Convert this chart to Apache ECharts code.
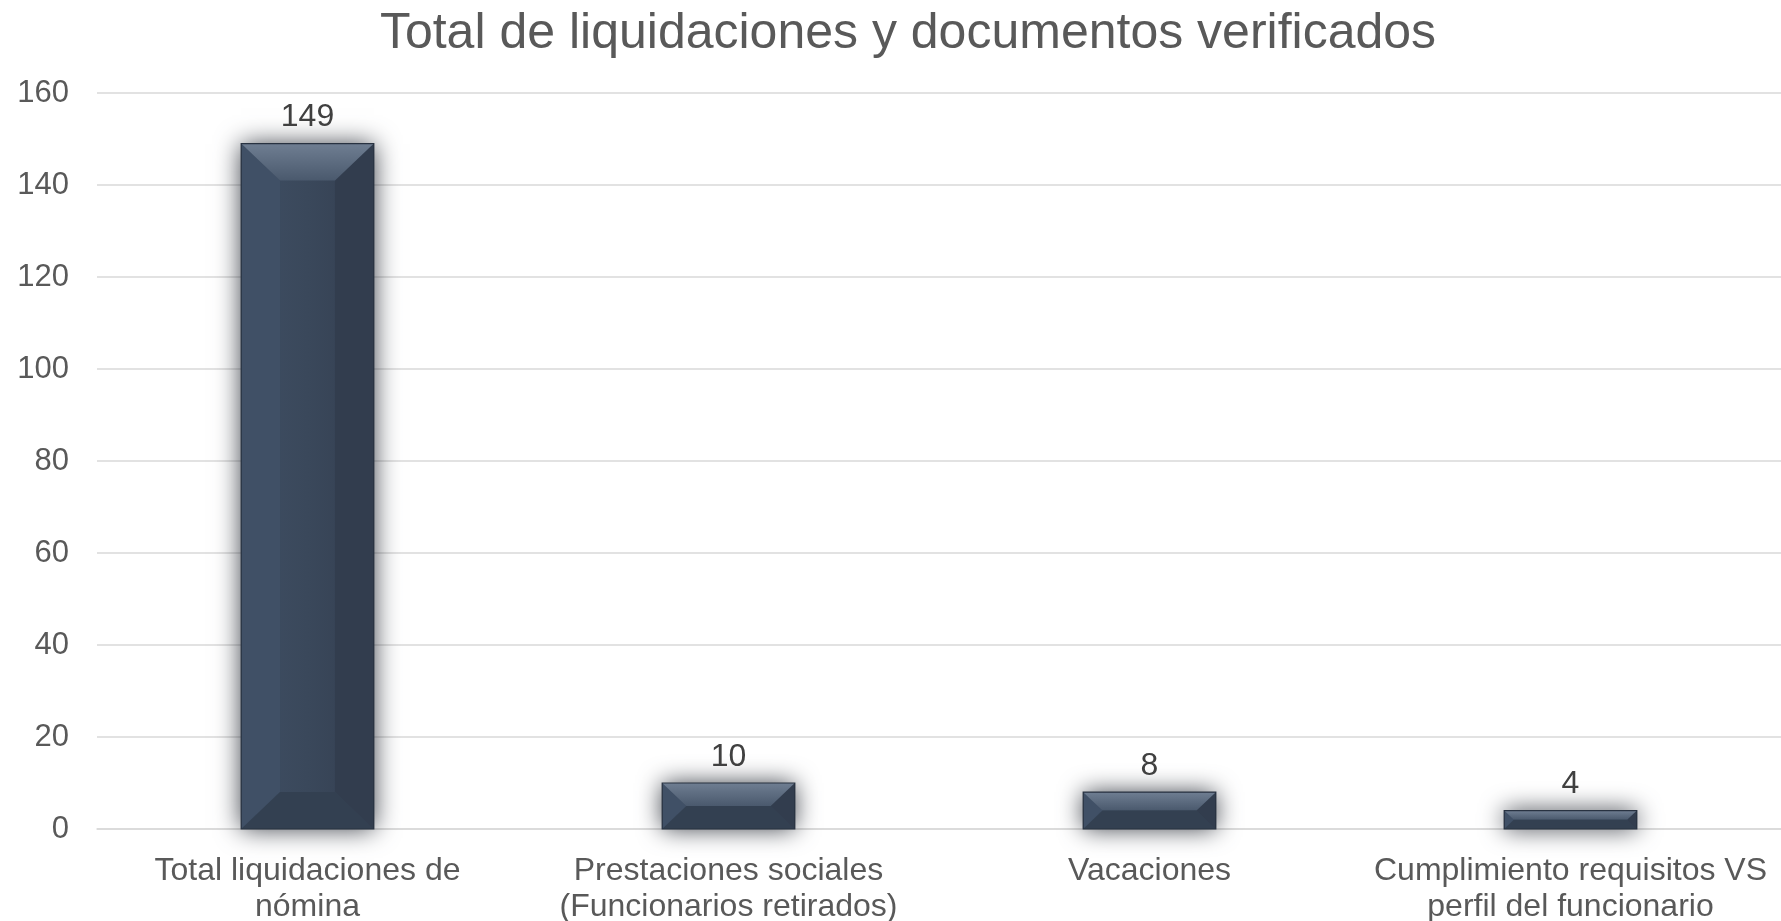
<!DOCTYPE html>
<html>
<head>
<meta charset="utf-8">
<script src="https://cdn.jsdelivr.net/npm/echarts@6/dist/echarts.min.js"></script>
<style>
  html, body { margin: 0; padding: 0; background: #fff; }
  #main { width: 1781px; height: 921px; }
</style>
</head>
<body>
<div id="main"></div>
<script>
// datos del gráfico
var categorias = [
  'Total liquidaciones de\nnómina',
  'Prestaciones sociales\n(Funcionarios retirados)',
  'Vacaciones',
  'Cumplimiento requisitos VS\nperfil del funcionario'
]
var valores = [149, 10, 8, 4]
var ticksY = [0, 20, 40, 60, 80, 100, 120, 140, 160]

var myChart = echarts.init(document.getElementById('main'))

// bisel de la barra (caras superior, izquierda, derecha, inferior)
function biselItem (params, api) {
  var base = api.coord([api.value(0), 0])
  var tope = api.coord([api.value(0), api.value(1)])
  var ancho = api.size([1, 0])[0] * 0.315
  var x0 = base[0] - ancho / 2
  var x1 = base[0] + ancho / 2
  var y0 = tope[1]
  var y1 = base[1]
  var h = y1 - y0
  var b = Math.min(37, h / 2)
  var bx = Math.min(b * 1.05, ancho / 2)
  return {
    type: 'group',
    children: [
      {
        type: 'polygon',
        shape: { points: [[x0, y0], [x0 + bx, y0 + b], [x0 + bx, y1 - b], [x0, y1]] },
        style: { fill: '#405066' }
      },
      {
        type: 'polygon',
        shape: { points: [[x1, y0], [x1, y1], [x1 - bx, y1 - b], [x1 - bx, y0 + b]] },
        style: { fill: '#323d4e' }
      },
      {
        type: 'polygon',
        shape: { points: [[x0, y0], [x1, y0], [x1 - bx, y0 + b], [x0 + bx, y0 + b]] },
        style: {
          fill: new echarts.graphic.LinearGradient(0, 0, 0, 1, [
            { offset: 0, color: '#6f7e92' },
            { offset: 1, color: '#4a596d' }
          ])
        }
      },
      {
        type: 'polygon',
        shape: { points: [[x0, y1], [x0 + bx, y1 - b], [x1 - bx, y1 - b], [x1, y1]] },
        style: { fill: '#334051' }
      },
      {
        type: 'rect',
        shape: { x: x0, y: y0, width: ancho, height: h },
        style: { fill: 'none', stroke: '#283241', lineWidth: 1.2 }
      }
    ]
  }
}

var option = {
  backgroundColor: '#ffffff',
  title: {
    text: 'Total de liquidaciones y documentos verificados',
    left: 903,
    top: 4,
    textAlign: 'center',
    textStyle: {
      fontFamily: 'Liberation Sans, Arial, sans-serif',
      fontSize: 50,
      fontWeight: 'normal',
      color: '#595959'
    }
  },
  grid: {
    left: 97,
    right: 0,
    top: 93,
    bottom: 92,
    containLabel: false,
    outerBoundsMode: 'none'
  },
  xAxis: {
    type: 'category',
    data: categorias,
    axisTick: { show: false },
    axisLine: { lineStyle: { color: '#d9d9d9', width: 1.5 } },
    axisLabel: {
      color: '#595959',
      fontFamily: 'Liberation Sans, Arial, sans-serif',
      fontSize: 32,
      lineHeight: 36,
      margin: 24,
      interval: 0
    }
  },
  yAxis: {
    type: 'value',
    min: ticksY[0],
    max: ticksY[ticksY.length - 1],
    interval: 20,
    axisLine: { show: false },
    axisTick: { show: false },
    splitLine: { lineStyle: { color: '#d9d9d9', width: 1.5 } },
    axisLabel: {
      color: '#595959',
      fontFamily: 'Liberation Sans, Arial, sans-serif',
      fontSize: 31,
      margin: 28
    }
  },
  series: [
    {
      name: 'Total',
      type: 'bar',
      data: valores,
      barWidth: '31.5%',
      itemStyle: {
        color: new echarts.graphic.LinearGradient(0, 0, 1, 0, [
          { offset: 0, color: '#3f4e63' },
          { offset: 0.5, color: '#3a485b' },
          { offset: 1, color: '#343f51' }
        ]),
        shadowColor: 'rgba(25,30,40,0.85)',
        shadowBlur: 24
      },
      label: {
        show: true,
        position: 'top',
        distance: 10,
        color: '#404040',
        fontFamily: 'Liberation Sans, Arial, sans-serif',
        fontSize: 32
      },
      z: 2
    },
    {
      name: 'bisel',
      type: 'custom',
      renderItem: biselItem,
      data: valores.map(function (v, i) { return [i, v] }),
      encode: { x: 0, y: 1 },
      silent: true,
      z: 3
    }
  ]
}

myChart.setOption(option)
</script>
</body>
</html>
